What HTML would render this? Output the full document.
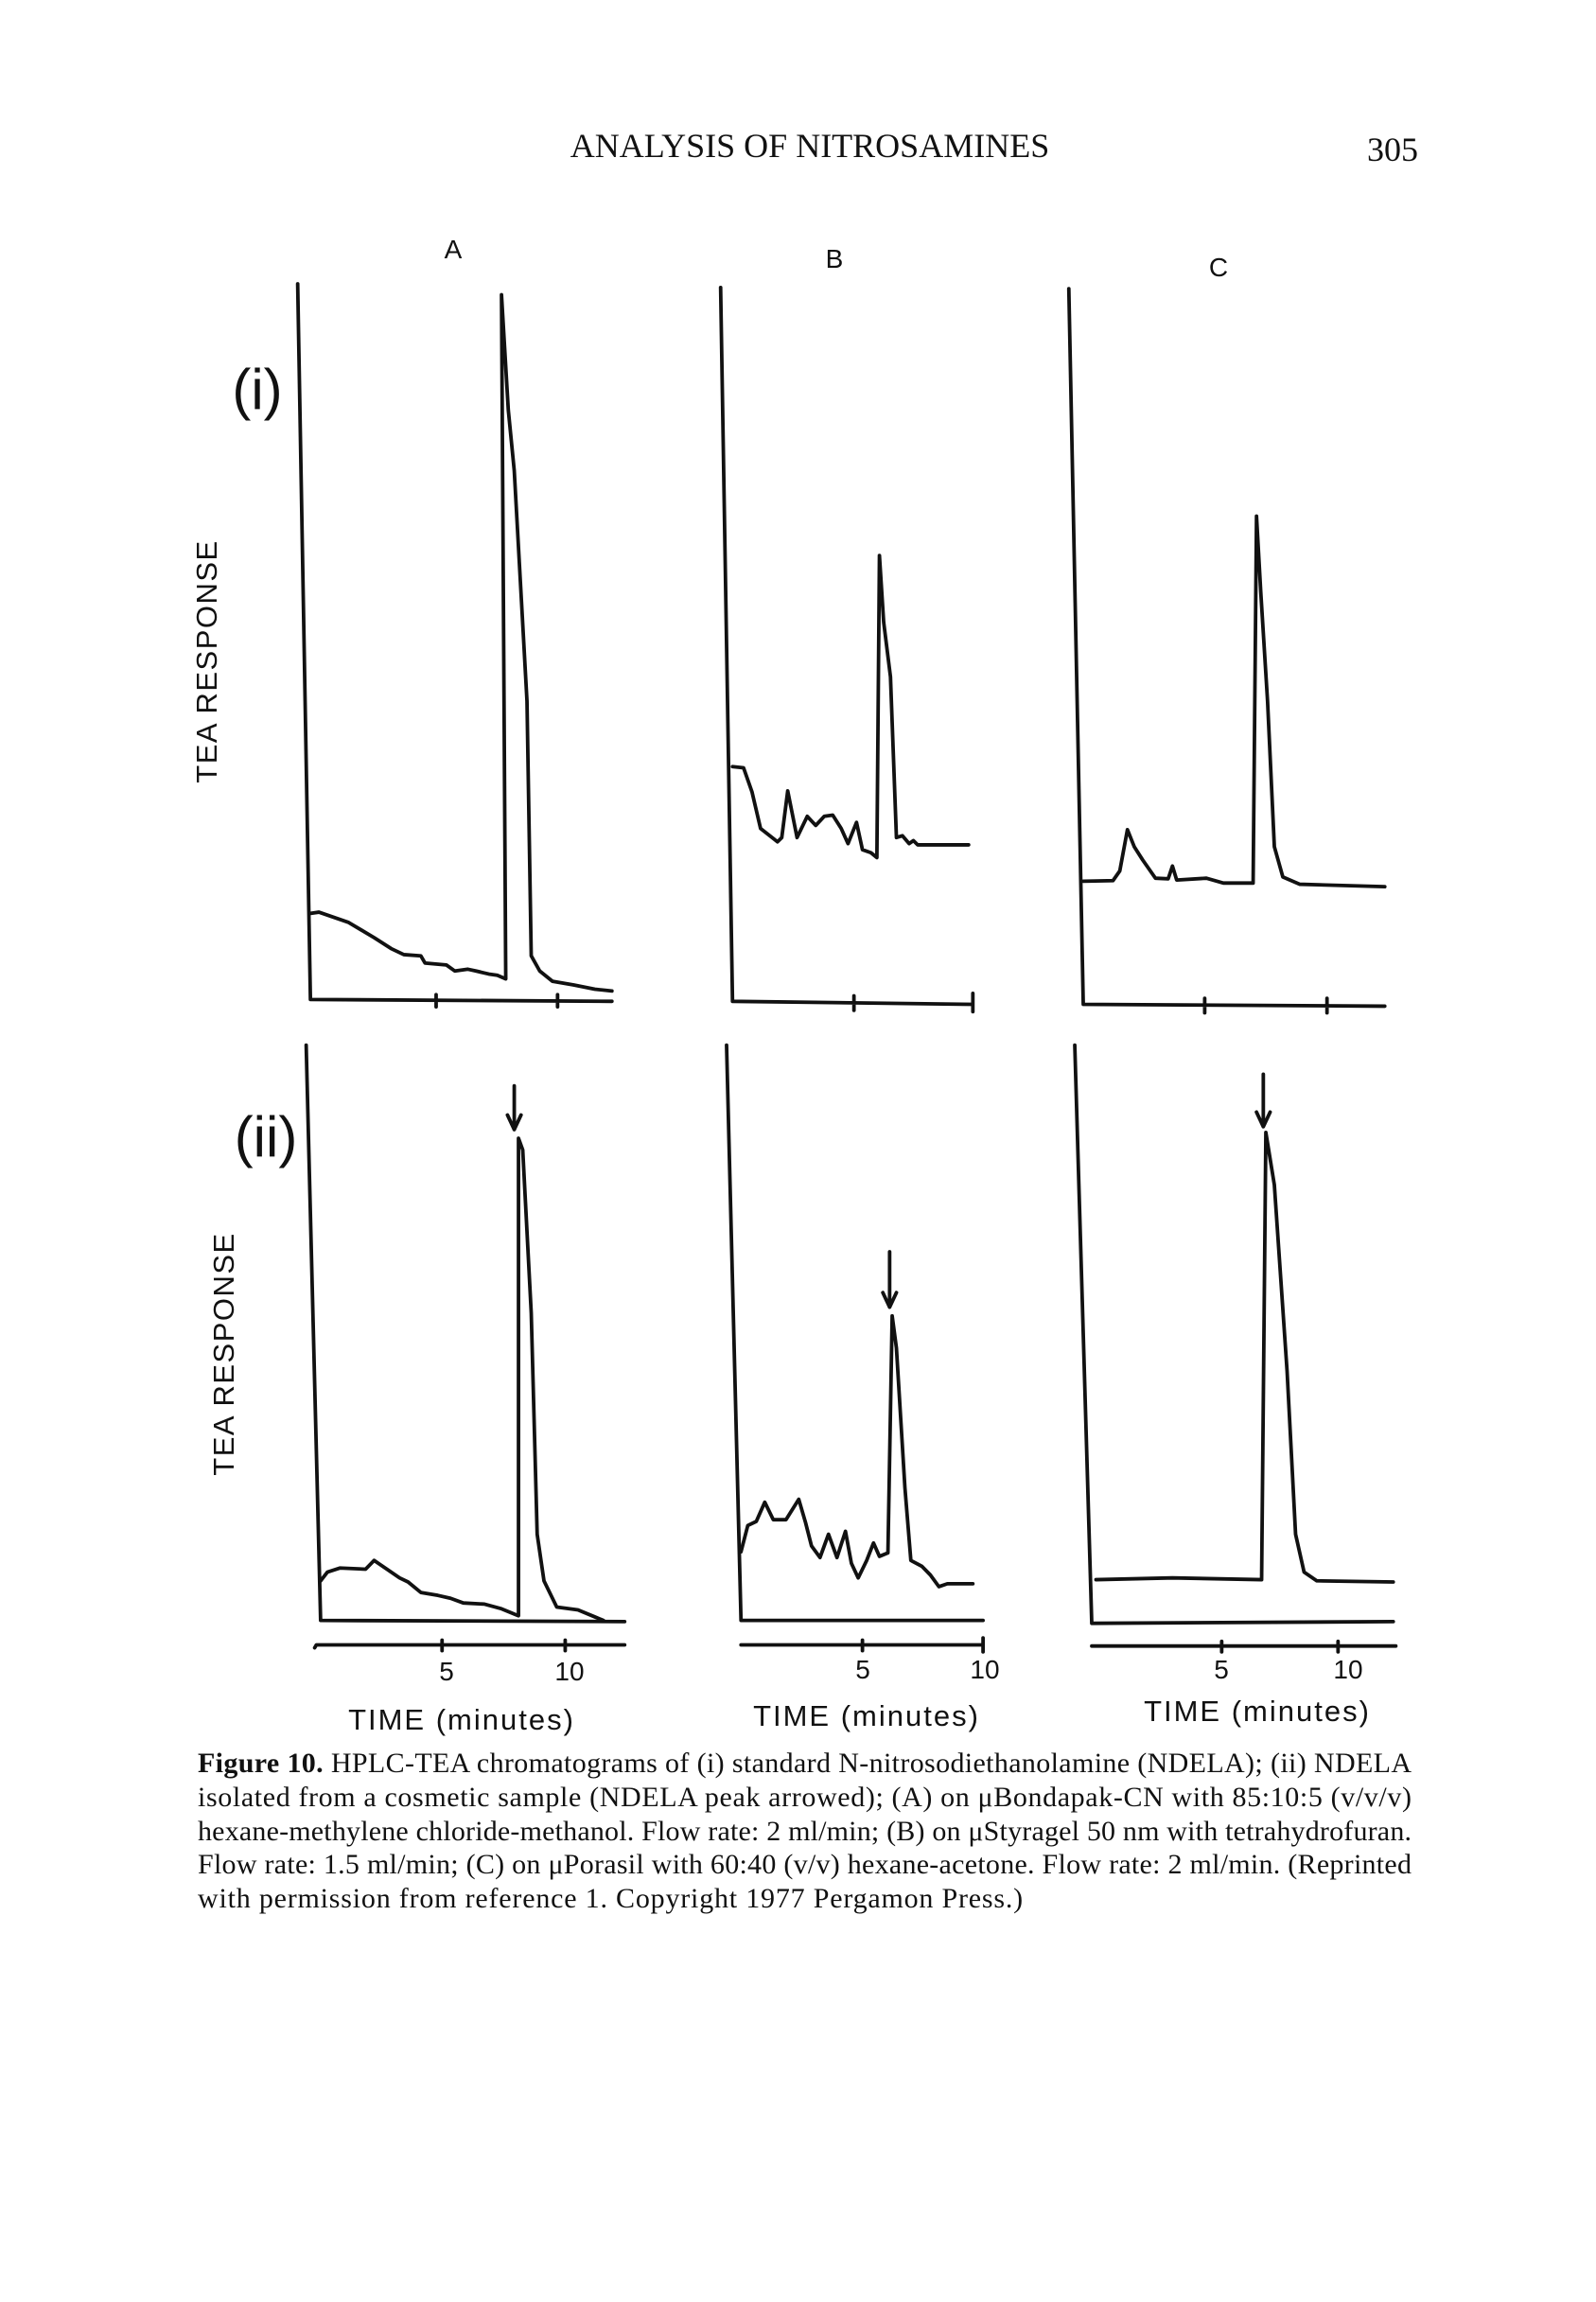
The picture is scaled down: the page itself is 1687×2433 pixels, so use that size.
<!DOCTYPE html>
<html><head><meta charset="utf-8"><style>
html,body{margin:0;padding:0;background:#fff;}
svg{display:block;}
</style></head><body>
<svg width="1687" height="2433" viewBox="0 0 1687 2433" xmlns="http://www.w3.org/2000/svg">
<rect width="1687" height="2433" fill="#fff"/>
<g font-family="Liberation Serif, serif" fill="#111">
<text x="856" y="166" font-size="36" text-anchor="middle">ANALYSIS OF NITROSAMINES</text>
<text x="1472" y="170" font-size="36" text-anchor="middle">305</text>
</g>
<g font-family="Liberation Sans, sans-serif" fill="#111">
<text x="479" y="273" font-size="28" text-anchor="middle">A</text>
<text x="882" y="283" font-size="28" text-anchor="middle">B</text>
<text x="1288" y="292" font-size="28" text-anchor="middle">C</text>
<text x="272" y="432" font-size="60" text-anchor="middle">(i)</text>
<text x="281" y="1222" font-size="60" text-anchor="middle">(ii)</text>
<text transform="translate(229,699) rotate(-90)" font-size="31" text-anchor="middle" letter-spacing="1.5">TEA RESPONSE</text>
<text transform="translate(247,1431) rotate(-90)" font-size="31" text-anchor="middle" letter-spacing="1.5">TEA RESPONSE</text>
<g font-size="28" text-anchor="middle">
<text x="472" y="1776">5</text><text x="602" y="1776">10</text>
<text x="912" y="1774">5</text><text x="1041" y="1774">10</text>
<text x="1291" y="1774">5</text><text x="1425" y="1774">10</text>
</g>
<g font-size="31" text-anchor="middle" letter-spacing="2">
<text x="488" y="1828">TIME (minutes)</text>
<text x="916" y="1824">TIME (minutes)</text>
<text x="1329" y="1819">TIME (minutes)</text>
</g>
</g>
<g fill="none" stroke="#111" stroke-width="3.8" stroke-linejoin="round" stroke-linecap="round">
<g transform="translate(180,100) scale(0.8977,0.641)">
<path vector-effect="non-scaling-stroke" d="M150,312 L165,1492 L520,1495 M313,1484 L313,1504 M456,1484 L456,1504"/>
<path vector-effect="non-scaling-stroke" d="M165,1350 L175,1348 L210,1365 L240,1390 L260,1408 L275,1418 L295,1420 L300,1432 L325,1435 L335,1445 L350,1442 L360,1445 L375,1450 L385,1452 L395,1458 L390,330 L398,520 L405,620 L420,1000 L425,1420 L435,1445 L450,1462 L475,1468 L500,1475 L520,1478"/>
<path vector-effect="non-scaling-stroke" d="M648,318 L662,1495 L945,1500 M805,1486 L805,1510 M945,1482 L945,1512"/>
<path vector-effect="non-scaling-stroke" d="M662,1108 L675,1110 L685,1150 L695,1210 L715,1232 L720,1225 L727,1148 L738,1225 L750,1190 L760,1205 L770,1190 L780,1188 L790,1210 L798,1235 L808,1200 L815,1245 L825,1250 L832,1258 L835,760 L840,870 L848,960 L855,1225 L862,1222 L870,1235 L875,1230 L880,1237 L940,1237"/>
<path vector-effect="non-scaling-stroke" d="M1058,320 L1075,1500 L1430,1503 M1218,1490 L1218,1514 M1362,1490 L1362,1514"/>
<path vector-effect="non-scaling-stroke" d="M1075,1297 L1110,1296 L1118,1280 L1127,1212 L1135,1240 L1145,1262 L1160,1292 L1175,1293 L1180,1272 L1185,1295 L1220,1292 L1240,1300 L1275,1300 L1279,695 L1284,820 L1292,1000 L1300,1240 L1310,1290 L1330,1302 L1430,1306"/>
</g>
<g transform="translate(180,1080) scale(0.8977,0.6154)">
<path vector-effect="non-scaling-stroke" d="M160,40 L177,1028 L535,1030"/>
<path vector-effect="non-scaling-stroke" d="M170,1075 L172,1070 L535,1070 M320,1062 L320,1080 M465,1062 L465,1080"/>
<path vector-effect="non-scaling-stroke" d="M405,110 L405,185 M397,160 L405,185 L413,160"/>
<path vector-effect="non-scaling-stroke" d="M177,960 L185,945 L200,938 L230,940 L240,925 L255,940 L270,955 L280,962 L295,980 L315,985 L330,990 L345,998 L370,1000 L390,1008 L410,1020 L410,200 L415,220 L425,500 L432,880 L440,960 L455,1005 L480,1010 L500,1022 L510,1028"/>
<path vector-effect="non-scaling-stroke" d="M655,40 L672,1028 L957,1028"/>
<path vector-effect="non-scaling-stroke" d="M672,1070 L957,1070 M815,1062 L815,1080 M957,1058 L957,1082"/>
<path vector-effect="non-scaling-stroke" d="M847,395 L847,490 M839,465 L847,490 L855,465"/>
<path vector-effect="non-scaling-stroke" d="M672,910 L680,865 L690,858 L700,825 L710,855 L725,855 L740,820 L748,860 L755,900 L765,920 L775,880 L785,920 L795,875 L802,930 L810,955 L820,925 L828,895 L835,918 L845,912 L850,505 L855,560 L865,800 L872,925 L885,935 L895,950 L905,970 L915,965 L945,965"/>
<path vector-effect="non-scaling-stroke" d="M1065,40 L1085,1033 L1440,1030"/>
<path vector-effect="non-scaling-stroke" d="M1085,1072 L1443,1072 M1238,1064 L1238,1082 M1375,1064 L1375,1082"/>
<path vector-effect="non-scaling-stroke" d="M1287,90 L1287,180 M1279,155 L1287,180 L1295,155"/>
<path vector-effect="non-scaling-stroke" d="M1090,958 L1180,955 L1285,958 L1290,190 L1300,280 L1315,600 L1325,880 L1335,945 L1350,960 L1440,962"/>
</g>
</g>
<g font-family="Liberation Serif, serif" font-size="30" fill="#111">
<text x="209" y="1873" textLength="1283" lengthAdjust="spacing"><tspan font-weight="bold">Figure 10.</tspan> HPLC-TEA chromatograms of (i) standard N-nitrosodiethanolamine (NDELA); (ii) NDELA</text>
<text x="209" y="1909" textLength="1283" lengthAdjust="spacing">isolated from a cosmetic sample (NDELA peak arrowed); (A) on μBondapak-CN with 85:10:5 (v/v/v)</text>
<text x="209" y="1945" textLength="1283" lengthAdjust="spacing">hexane-methylene chloride-methanol. Flow rate: 2 ml/min; (B) on μStyragel 50 nm with tetrahydrofuran.</text>
<text x="209" y="1980" textLength="1283" lengthAdjust="spacing">Flow rate: 1.5 ml/min; (C) on μPorasil with 60:40 (v/v) hexane-acetone. Flow rate: 2 ml/min. (Reprinted</text>
<text x="209" y="2016" letter-spacing="0.8">with permission from reference 1. Copyright 1977 Pergamon Press.)</text>
</g>
</svg>
</body></html>
